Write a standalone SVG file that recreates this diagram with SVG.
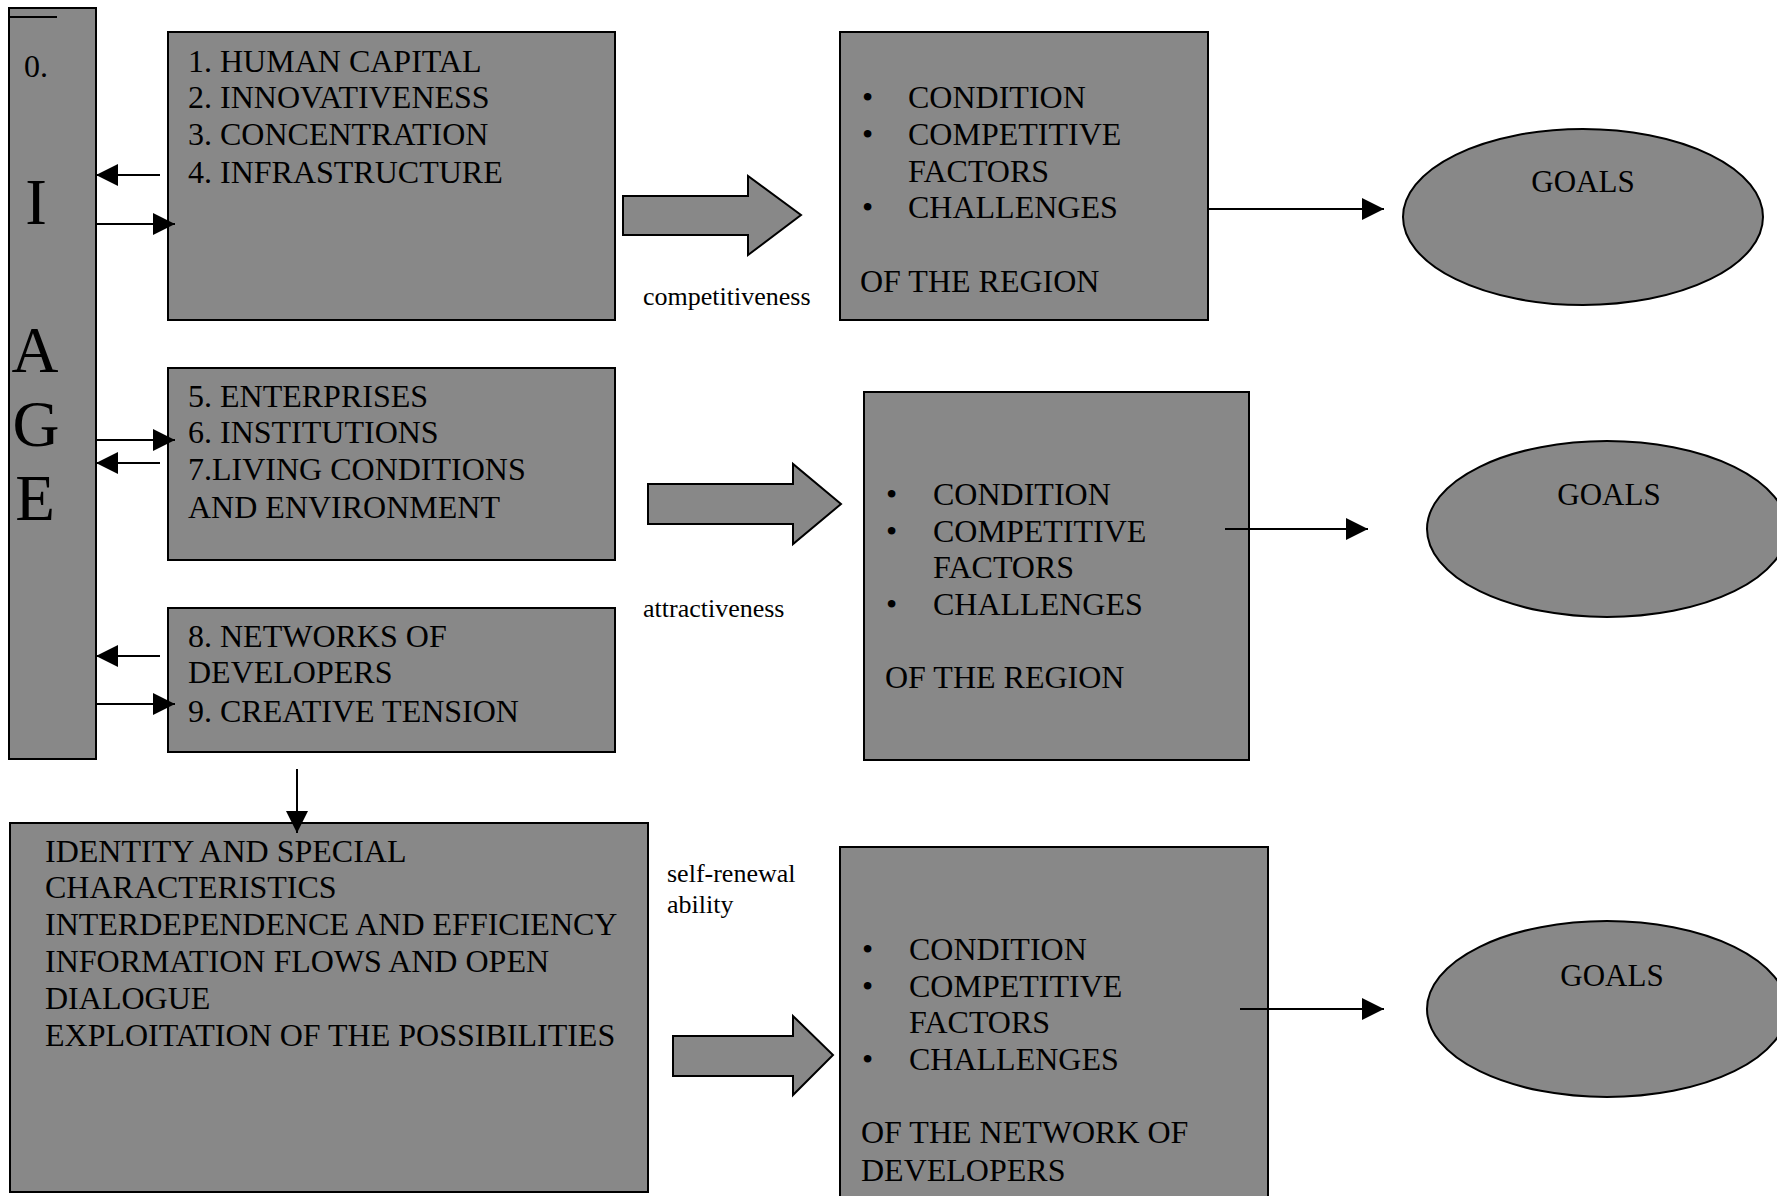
<svg xmlns="http://www.w3.org/2000/svg" width="1777" height="1196" viewBox="0 0 1777 1196">
<defs>
<style>
.box{fill:#888888;stroke:#000;stroke-width:2}
.t{font-family:"Liberation Serif","Times New Roman",serif;font-size:32px;fill:#000}
.big{font-family:"Liberation Serif","Times New Roman",serif;font-size:65px;fill:#000;text-anchor:middle}
.lbl{font-family:"Liberation Serif","Times New Roman",serif;font-size:26px;fill:#000}
.goal{font-family:"Liberation Serif","Times New Roman",serif;font-size:31px;fill:#000;text-anchor:middle}
.ln{stroke:#000;stroke-width:2;fill:none}
.blk{fill:#888888;stroke:#000;stroke-width:2;stroke-linejoin:miter}
</style>
<marker id="ah" markerUnits="userSpaceOnUse" markerWidth="22" markerHeight="22" viewBox="0 0 20 20" refX="20" refY="10" orient="auto">
<path d="M0,0 L20,10 L0,20 z" fill="#000"/>
</marker>
</defs>
<rect width="1777" height="1196" fill="#fff"/>

<g id="image-bar">
<rect class="box" x="9" y="8" width="87" height="751"/>
<line x1="9" y1="17" x2="57" y2="17" stroke="#000" stroke-width="2"/>
<text class="t" x="24" y="77">0.</text>
<text class="big" x="36" y="224">I</text>
<text class="big" x="35" y="372">A</text>
<text class="big" x="36" y="446">G</text>
<text class="big" x="35" y="520">E</text>
</g>

<g id="factors-1-4">
<rect class="box" x="168" y="32" width="447" height="288"/>
<text class="t" x="188" y="72">1. HUMAN CAPITAL</text>
<text class="t" x="188" y="108">2. INNOVATIVENESS</text>
<text class="t" x="188" y="145">3. CONCENTRATION</text>
<text class="t" x="188" y="183">4. INFRASTRUCTURE</text>
</g>

<g id="factors-5-7">
<rect class="box" x="168" y="368" width="447" height="192"/>
<text class="t" x="188" y="407">5. ENTERPRISES</text>
<text class="t" x="188" y="443">6. INSTITUTIONS</text>
<text class="t" x="188" y="480">7.LIVING CONDITIONS</text>
<text class="t" x="188" y="518">AND ENVIRONMENT</text>
</g>

<g id="factors-8-9">
<rect class="box" x="168" y="608" width="447" height="144"/>
<text class="t" x="188" y="647">8. NETWORKS OF</text>
<text class="t" x="188" y="683">DEVELOPERS</text>
<text class="t" x="188" y="722">9. CREATIVE TENSION</text>
</g>

<g id="network-qualities">
<rect class="box" x="10" y="823" width="638" height="369"/>
<text class="t" x="45" y="862">IDENTITY AND SPECIAL</text>
<text class="t" x="45" y="898">CHARACTERISTICS</text>
<text class="t" x="45" y="935">INTERDEPENDENCE AND EFFICIENCY</text>
<text class="t" x="45" y="972">INFORMATION FLOWS AND OPEN</text>
<text class="t" x="45" y="1009">DIALOGUE</text>
<text class="t" x="45" y="1046">EXPLOITATION OF THE POSSIBILITIES</text>
</g>

<g id="region-state-1">
<rect class="box" x="840" y="32" width="368" height="288"/>
<text class="t" x="862" y="108">•</text>
<text class="t" x="908" y="108">CONDITION</text>
<text class="t" x="862" y="145">•</text>
<text class="t" x="908" y="145">COMPETITIVE</text>
<text class="t" x="908" y="182">FACTORS</text>
<text class="t" x="862" y="218">•</text>
<text class="t" x="908" y="218">CHALLENGES</text>
<text class="t" x="860" y="292">OF THE REGION</text>
</g>

<g id="region-state-2">
<rect class="box" x="864" y="392" width="385" height="368"/>
<text class="t" x="886" y="505">•</text>
<text class="t" x="933" y="505">CONDITION</text>
<text class="t" x="886" y="542">•</text>
<text class="t" x="933" y="542">COMPETITIVE</text>
<text class="t" x="933" y="578">FACTORS</text>
<text class="t" x="886" y="615">•</text>
<text class="t" x="933" y="615">CHALLENGES</text>
<text class="t" x="885" y="688">OF THE REGION</text>
</g>

<g id="network-state">
<rect class="box" x="840" y="847" width="428" height="360"/>
<text class="t" x="862" y="960">•</text>
<text class="t" x="909" y="960">CONDITION</text>
<text class="t" x="862" y="997">•</text>
<text class="t" x="909" y="997">COMPETITIVE</text>
<text class="t" x="909" y="1033">FACTORS</text>
<text class="t" x="862" y="1070">•</text>
<text class="t" x="909" y="1070">CHALLENGES</text>
<text class="t" x="861" y="1143">OF THE NETWORK OF</text>
<text class="t" x="861" y="1181">DEVELOPERS</text>
</g>

<g id="goals-1">
<ellipse class="box" cx="1583" cy="217" rx="180" ry="88"/>
<text class="goal" x="1583" y="192">GOALS</text>
</g>

<g id="goals-2">
<ellipse class="box" cx="1607" cy="529" rx="180" ry="88"/>
<text class="goal" x="1609" y="505">GOALS</text>
</g>

<g id="goals-3">
<ellipse class="box" cx="1607" cy="1009" rx="180" ry="88"/>
<text class="goal" x="1612" y="986">GOALS</text>
</g>

<g id="connectors">
<line class="ln" x1="160" y1="175" x2="96" y2="175" marker-end="url(#ah)"/>
<line class="ln" x1="96" y1="224" x2="175" y2="224" marker-end="url(#ah)"/>
<line class="ln" x1="96" y1="440" x2="175" y2="440" marker-end="url(#ah)"/>
<line class="ln" x1="160" y1="463" x2="96" y2="463" marker-end="url(#ah)"/>
<line class="ln" x1="160" y1="656" x2="96" y2="656" marker-end="url(#ah)"/>
<line class="ln" x1="96" y1="704" x2="175" y2="704" marker-end="url(#ah)"/>
<line class="ln" x1="297" y1="769" x2="297" y2="833" marker-end="url(#ah)"/>
<line class="ln" x1="1208" y1="209" x2="1384" y2="209" marker-end="url(#ah)"/>
<line class="ln" x1="1225" y1="529" x2="1368" y2="529" marker-end="url(#ah)"/>
<line class="ln" x1="1240" y1="1009" x2="1384" y2="1009" marker-end="url(#ah)"/>
<polygon class="blk" points="623,196 748,196 748,176 801,215 748,255 748,235 623,235"/>
<polygon class="blk" points="648,484 793,484 793,464 841,504 793,544 793,524 648,524"/>
<polygon class="blk" points="673,1036 793,1036 793,1016 833,1055 793,1095 793,1076 673,1076"/>
<text class="lbl" x="643" y="305">competitiveness</text>
<text class="lbl" x="643" y="617">attractiveness</text>
<text class="lbl" x="667" y="882">self-renewal</text>
<text class="lbl" x="667" y="913">ability</text>
</g>
</svg>
